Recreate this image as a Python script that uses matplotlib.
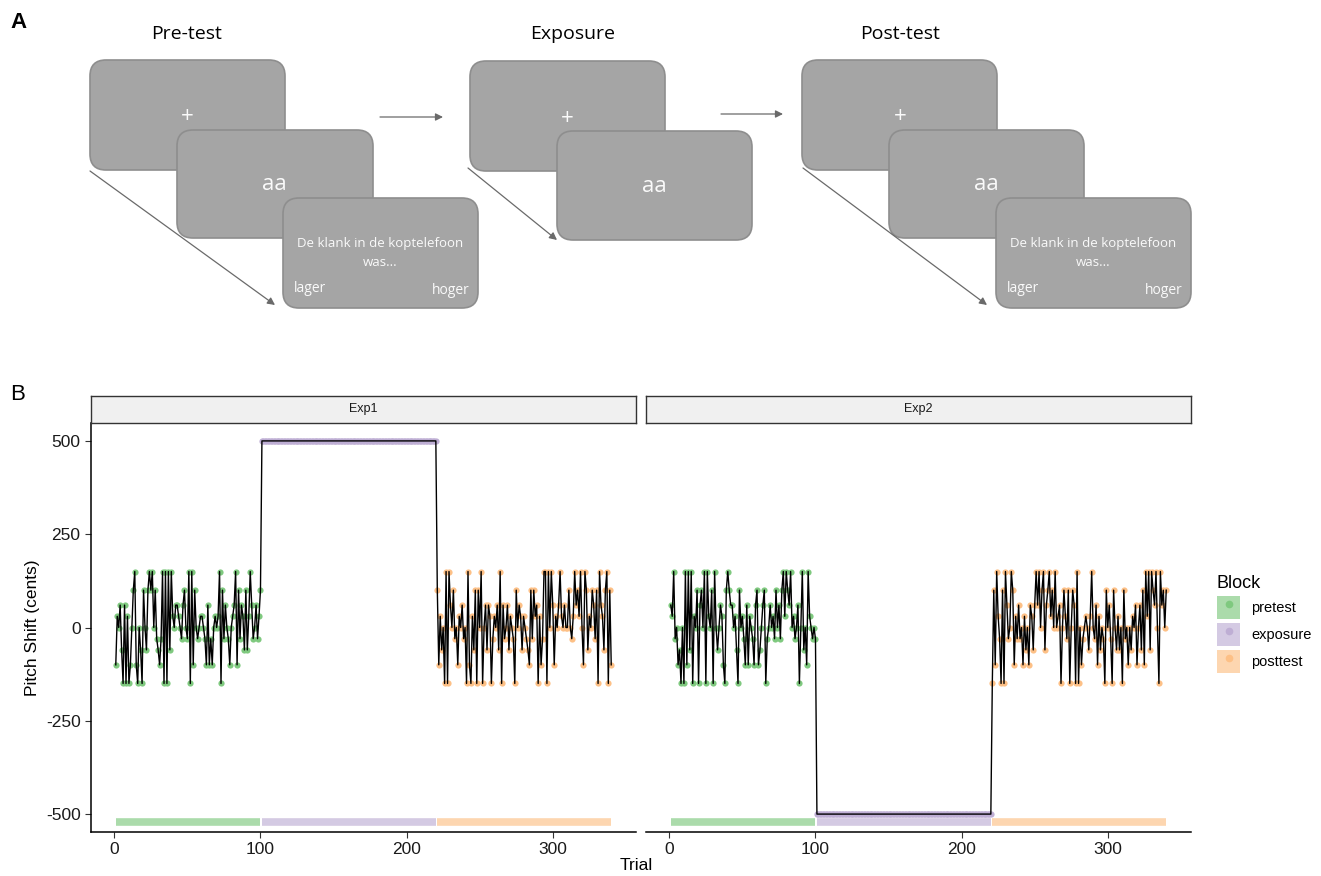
import numpy as np
import matplotlib.pyplot as plt
from matplotlib.patches import FancyBboxPatch, Patch
from matplotlib.lines import Line2D
from matplotlib.legend_handler import HandlerTuple

# ---- data -------------------------------------------------------------
blocks = ["pretest", "exposure", "posttest"]
block_colors = ["#7FC97F", "#BEAED4", "#FDC086"]
block_ranges = [(1, 100), (101, 220), (221, 340)]
exp_names = ["Exp1", "Exp2"]

pre_exp1 = [-100, 30, 0, 60, -60, -150, 60, -150, 30, -150,
            -100, 0, 100, 150, -100, -150, 0, -60, -150, 100,
            0, -60, 100, 150, 100, 150, 0, 100, -30, -60,
            -100, -30, 150, -150, 150, -150, 150, -60, 150, 30,
            0, 60, 60, 30, 0, -30, 60, 100, 0, -30,
            150, -150, 150, -100, 100, 0, -30, 0, 30, 30,
            0, -30, -100, 60, -100, -30, -100, 0, 30, 0,
            30, 150, -150, 100, -30, 60, 0, -30, -100, 0,
            30, 60, 150, -100, 100, -30, 60, 30, -60, 100,
            -60, 30, 150, 60, -30, 0, 60, -30, 30, 100]
post_exp1 = [100, -100, 30, -60, 0, -150, 150, -150, 150, 60,
             0, 100, -30, 0, -100, 30, 0, 60, -30, 0,
             -150, 150, -100, -150, 30, -60, 100, -150, 100, 0,
             150, -150, 0, 60, -60, 60, 30, -150, -30, 30,
             0, 60, -60, 150, -150, 60, -30, 0, 60, -60,
             30, 0, -30, -150, 100, 0, 60, 30, -60, 30,
             0, -30, -60, -100, 100, -30, 100, 30, 60, -150,
             30, -100, -30, 150, 150, -150, 150, 0, 150, 60,
             -100, 30, 0, 60, 150, 30, 0, 60, 0, 0,
             100, 0, -30, 30, 150, 60, 100, 30, 150, 0,
             -100, 150, 100, -60, 30, 0, 100, 60, -30, 100,
             -150, 150, 60, 30, -60, 100, 150, -150, 100, -100]
pre_exp2 = [60, 30, 150, -30, 0, -100, -60, -150, 0, -150,
            150, -100, 150, -60, 150, -150, 30, 0, 100, -150,
            60, 100, 0, 150, -150, 150, 30, 0, 100, -150,
            150, 0, -60, 0, 60, 30, -100, -150, 100, 150,
            100, 60, 60, 0, 30, -60, -150, 100, 0, 30,
            -30, -100, 60, -100, 30, 0, -30, -100, 60, 100,
            -100, -60, 0, 60, 100, -150, -30, 0, 60, 0,
            30, -30, 100, 0, 60, -30, 100, 150, 30, 150,
            100, 60, 150, 0, 30, -30, 0, 60, -150, 0,
            150, -60, 0, -100, 150, 30, 0, -30, 0, -30]
post_exp2 = [-150, 100, -100, 150, 30, -30, -150, 100, -150, 150,
             60, -30, 0, 150, 100, -100, 30, -30, 60, -30,
             0, -100, 30, -60, 0, -100, 60, 30, -60, 60,
             150, 60, 150, 0, 100, 150, -60, 60, 100, 150,
             30, 100, 0, 150, 0, 30, 60, -150, 0, 100,
             30, -30, 100, -150, 0, 100, 60, -150, 150, -150,
             0, -100, -30, 0, 30, 0, -60, 30, 150, 0,
             -30, 60, -100, 30, -60, 0, -30, -150, 100, 0,
             60, -30, -150, 100, 0, -60, 30, -60, 0, -150,
             100, -30, 0, -100, 0, -60, 30, 0, 60, -100,
             0, 60, -60, 100, -100, 150, 30, 150, -60, 150,
             100, 60, 150, 0, -150, 150, 60, 100, 0, 100]
exposure_exp1 = [500] * 120
exposure_exp2 = [-500] * 120

series = {
    "Exp1": [pre_exp1, exposure_exp1, post_exp1],
    "Exp2": [pre_exp2, exposure_exp2, post_exp2],
}
bar_level = -521

# ---- figure -----------------------------------------------------------
W, H = 1321, 876
plt.rcParams["font.family"] = ["Liberation Sans", "DejaVu Sans"]
plt.rcParams["axes.unicode_minus"] = False
fig = plt.figure(figsize=(W / 100, H / 100), dpi=100)

# overlay in pixel coordinates for panel A and panel letters
ax0 = fig.add_axes([0, 0, 1, 1], zorder=-1)
ax0.set_xlim(0, W)
ax0.set_ylim(H, 0)
ax0.axis("off")

box_fill = "#A5A5A5"
box_edge = "#8E8E8E"
txt_col = "#FAFAFA"
sfont = ["Open Sans", "DejaVu Sans"]


def box(x0, y0, x1, y1):
    ax0.add_patch(FancyBboxPatch((x0, y0), x1 - x0, y1 - y0,
                                 boxstyle="round,pad=0,rounding_size=16",
                                 fc=box_fill, ec=box_edge, lw=1.2))


def arrow(x0, y0, x1, y1):
    ax0.annotate("", xy=(x1, y1), xytext=(x0, y0),
                 arrowprops=dict(arrowstyle="-|>", color="#6A6A6A",
                                 lw=0.9, mutation_scale=11,
                                 shrinkA=0, shrinkB=0))


def response_screen(x0, y0):
    box(x0, y0, x0 + 195, y0 + 110)
    ax0.text(x0 + 97, y0 + 45, "De klank in de koptelefoon", color=txt_col,
             fontsize=9.5, ha="center", va="center", family=sfont)
    ax0.text(x0 + 97, y0 + 64, "was...", color=txt_col,
             fontsize=9.5, ha="center", va="center", family=sfont)
    ax0.text(x0 + 11, y0 + 91, "lager", color=txt_col,
             fontsize=10, ha="left", va="center", family=sfont)
    ax0.text(x0 + 187, y0 + 93, "hoger", color=txt_col,
             fontsize=10, ha="right", va="center", family=sfont)


ax0.text(10, 22, "A", fontsize=16, fontweight="bold", va="center")
ax0.text(10, 395, "B", fontsize=16, va="center")

# Pre-test
ax0.text(187, 34, "Pre-test", fontsize=14, ha="center", va="center", family=sfont)
arrow(90, 171, 275, 305)
box(90, 60, 285, 170)
ax0.text(187, 117, "+", color=txt_col, fontsize=16, ha="center", va="center", family=sfont)
box(177, 130, 373, 238)
ax0.text(274, 185, "aa", color=txt_col, fontsize=16, ha="center", va="center", family=sfont)
response_screen(283, 198)
arrow(380, 117, 443, 117)

# Exposure
ax0.text(573, 34, "Exposure", fontsize=14, ha="center", va="center", family=sfont)
arrow(468, 168, 557, 240)
box(470, 61, 665, 171)
ax0.text(567, 118, "+", color=txt_col, fontsize=16, ha="center", va="center", family=sfont)
box(557, 131, 752, 240)
ax0.text(654, 186, "aa", color=txt_col, fontsize=16, ha="center", va="center", family=sfont)
arrow(721, 114, 783, 114)

# Post-test
ax0.text(900, 34, "Post-test", fontsize=14, ha="center", va="center", family=sfont)
arrow(803, 168, 987, 305)
box(802, 60, 997, 170)
ax0.text(900, 117, "+", color=txt_col, fontsize=16, ha="center", va="center", family=sfont)
box(889, 130, 1084, 238)
ax0.text(986, 185, "aa", color=txt_col, fontsize=16, ha="center", va="center", family=sfont)
response_screen(996, 198)

# ---- panel B ----------------------------------------------------------
panel_left = [91, 646]
panel_w = 545
ax_bottom = 1 - 832 / H
ax_height = (832 - 423) / H
strip_h = 27 / H

for i, name in enumerate(exp_names):
    left = panel_left[i] / W
    ax = fig.add_axes([left, ax_bottom, panel_w / W, ax_height])
    sax = fig.add_axes([left, ax_bottom + ax_height, panel_w / W, strip_h])
    sax.set_xticks([])
    sax.set_yticks([])
    sax.set_facecolor("#F0F0F0")
    for sp in sax.spines.values():
        sp.set_color("#333333")
        sp.set_linewidth(1.0)
    sax.text(0.5, 0.5, name, ha="center", va="center", fontsize=9,
             color="#1A1A1A", transform=sax.transAxes)

    trials_all, shift_all = [], []
    for (start, end), vals, col in zip(block_ranges, series[name], block_colors):
        t = np.arange(start, end + 1)
        ax.scatter(t, vals, s=20, color=col, lw=0, zorder=2)
        ax.hlines(bar_level, start, end, color=col, alpha=0.65, lw=5.5, zorder=1)
        trials_all.append(t)
        shift_all.append(vals)
    ax.plot(np.concatenate(trials_all), np.concatenate(shift_all),
            color="black", lw=1.0, zorder=3)

    ax.set_xlim(1 - 16.95, 340 + 16.95)
    ax.set_ylim(-548, 548)
    ax.set_xticks([0, 100, 200, 300])
    ax.set_yticks([500, 250, 0, -250, -500])
    ax.tick_params(labelsize=12.5, colors="#333333", length=4, width=0.8,
                   labelcolor="#1A1A1A")
    ax.spines["top"].set_visible(False)
    ax.spines["right"].set_visible(False)
    ax.spines["bottom"].set_linewidth(1.1)
    ax.spines["left"].set_linewidth(1.1)
    if i == 0:
        ax.set_ylabel("Pitch Shift (cents)", fontsize=12.5, labelpad=4)
    else:
        ax.spines["left"].set_visible(False)
        ax.tick_params(axis="y", left=False, labelleft=False)

fig.text(636 / W, 1 - 866 / H, "Trial", ha="center", va="center", fontsize=12.5)

handles = [(Patch(fc=c, alpha=0.65, ec="none"),
            Line2D([], [], marker="o", ls="none", color=c, markersize=4.5))
           for c in block_colors]
leg = fig.legend(handles, blocks, title="Block", loc="upper left",
                 bbox_to_anchor=(1217 / W, 1 - 575 / H), frameon=False,
                 borderpad=0, borderaxespad=0,
                 handler_map={tuple: HandlerTuple(ndivide=1)},
                 fontsize=10.5, title_fontsize=13, handlelength=1.6,
                 handleheight=2.0, labelspacing=0.3, handletextpad=0.75,
                 alignment="left")

fig.savefig("out.png", dpi=100)
